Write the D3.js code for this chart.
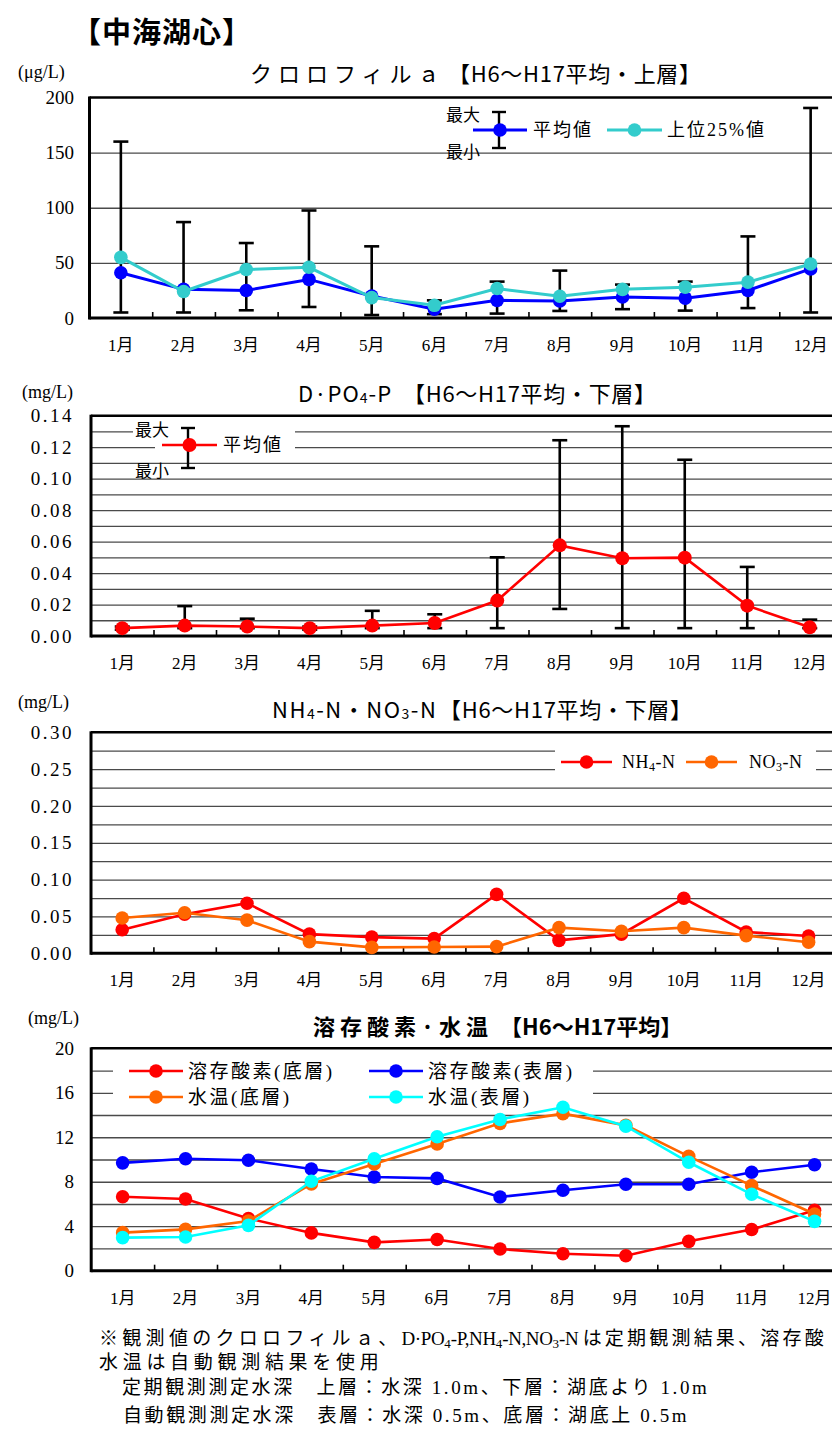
<!DOCTYPE html>
<html>
<head>
<meta charset="utf-8">
<script src="https://cdn.jsdelivr.net/npm/d3@7"></script>
<style>
  body { margin: 0; background: #fff; }
  svg { display: block; }
</style>
</head>
<body>
<div id="chart"></div>
<script>
// months on every x axis
const months = ["1月","2月","3月","4月","5月","6月","7月","8月","9月","10月","11月","12月"];

// クロロフィルａ (μg/L)
const chlMean  = [41, 26, 25, 35, 20, 8, 16, 15.5, 19, 18, 25, 44.5];
const chlTop25 = [55, 24, 44, 46, 18.5, 11.5, 26.7, 19.7, 26, 28, 32.5, 49];
const chlMax   = [160, 87, 68, 97.5, 65, 16, 33, 43, 30.3, 33, 74, 190.5];
const chlMin   = [5, 5, 7, 10, 2.7, 3.5, 4, 6.4, 8, 6.7, 9, 5];
const chlTicks = [0, 50, 100, 150, 200];
const chlGrid  = [50, 100, 150];

// D·PO4-P (mg/L)
const po4Mean  = [0.005, 0.0066, 0.006, 0.005, 0.0066, 0.0083, 0.0225, 0.0576, 0.0494, 0.0498, 0.0193, 0.0055];
const po4Max   = [0.006, 0.019, 0.011, 0.006, 0.016, 0.0138, 0.050, 0.1244, 0.1333, 0.112, 0.0439, 0.0104];
const po4Min   = [0.004, 0.005, 0.005, 0.004, 0.005, 0.005, 0.005, 0.0172, 0.005, 0.005, 0.005, 0.005];
const po4Ticks = [0, 0.02, 0.04, 0.06, 0.08, 0.10, 0.12, 0.14];
const po4Grid  = [0.01, 0.02, 0.03, 0.04, 0.05, 0.06, 0.07, 0.08, 0.09, 0.10, 0.11, 0.12, 0.13];

// NH4-N / NO3-N (mg/L)
const nh4 = [0.032, 0.053, 0.068, 0.026, 0.022, 0.020, 0.080, 0.0176, 0.026, 0.0747, 0.029, 0.0235];
const no3 = [0.048, 0.055, 0.045, 0.0158, 0.008, 0.0086, 0.009, 0.0348, 0.030, 0.0348, 0.024, 0.015];
const nTicks = [0, 0.05, 0.10, 0.15, 0.20, 0.25, 0.30];
const nGrid  = [0.025, 0.05, 0.075, 0.10, 0.125, 0.15, 0.175, 0.20, 0.225, 0.25, 0.275];

// 溶存酸素 (mg/L) / 水温
const doBottom  = [6.65, 6.45, 4.7, 3.4, 2.55, 2.8, 1.95, 1.53, 1.35, 2.64, 3.7, 5.43];
const doSurface = [9.7, 10.07, 9.93, 9.15, 8.43, 8.3, 6.63, 7.23, 7.77, 7.77, 8.85, 9.53];
const wtBottom  = [3.42, 3.72, 4.47, 7.8, 9.6, 11.4, 13.25, 14.12, 13.07, 10.28, 7.65, 5.1];
const wtSurface = [2.97, 3.03, 4.08, 8.04, 10.07, 12.05, 13.6, 14.7, 13.0, 9.75, 6.87, 4.44];
const oxTicks = [0, 4, 8, 12, 16, 20];
const oxGrid  = [2, 4, 6, 8, 10, 12, 14, 16, 18];

const W = 832, H = 1433;
const serif = "'Liberation Serif','Noto Sans CJK JP',serif";
const gothic = "'Noto Sans CJK JP',sans-serif";

const svg = d3.select("#chart").append("svg")
  .attr("width", W).attr("height", H);

// text with subscripts: parts = [[text, isSub, letterSpacing], ...]
function rich(sel, parts, subSize) {
  let shifted = false;
  parts.forEach(([t, sub, ls]) => {
    const ts = sel.append("tspan").text(t);
    if (ls !== undefined) ts.attr("letter-spacing", ls);
    if (sub) { ts.attr("font-size", subSize).attr("dy", 5); shifted = true; }
    else if (shifted) { ts.attr("dy", -5); shifted = false; }
  });
  return sel;
}

function label(x, y, txt, size, opts = {}) {
  return svg.append("text")
    .attr("x", x).attr("y", y)
    .attr("dominant-baseline", "central")
    .attr("font-family", opts.family || serif)
    .attr("font-size", size)
    .attr("font-weight", opts.weight || "normal")
    .attr("letter-spacing", opts.ls || 0)
    .attr("fill", "#000")
    .text(txt);
}

// axes, grid and frame for one panel
function panel(p) {
  const x = d3.scaleBand().domain(months).range([p.left, p.right]);
  const y = d3.scaleLinear().domain([0, p.max]).range([p.bottom, p.top]);
  const g = svg.append("g");

  g.append("g")
    .attr("transform", `translate(${p.left},0)`)
    .call(d3.axisLeft(y).tickValues(p.grid).tickSize(-(W - p.left)).tickFormat(""))
    .call(a => a.select(".domain").remove())
    .selectAll("line").attr("stroke", "#4a4a4a").attr("stroke-width", 1.3);

  g.append("g")
    .attr("transform", `translate(74,0)`)
    .call(d3.axisLeft(y).tickValues(p.ticks).tickSize(0).tickPadding(0).tickFormat(p.fmt))
    .call(a => a.select(".domain").remove())
    .selectAll("text")
      .attr("font-family", serif).attr("font-size", 19)
      .attr("letter-spacing", p.ls || 0).attr("fill", "#000");

  g.append("g")
    .attr("transform", `translate(0,${p.bottom})`)
    .call(d3.axisBottom(x).tickSize(0).tickPadding(21))
    .call(a => a.select(".domain").remove())
    .selectAll("text")
      .attr("font-family", serif).attr("font-size", 17).attr("fill", "#000");

  const xi = d3.scaleLinear().domain([0, 12]).range([p.left, p.right]);
  g.append("g")
    .attr("transform", `translate(0,${p.bottom})`)
    .call(d3.axisBottom(xi).tickValues(d3.range(1, 12)).tickSize(-6).tickFormat(""))
    .call(a => a.select(".domain").remove())
    .selectAll("line").attr("stroke", "#000").attr("stroke-width", 1.6);

  const fr = svg.append("g").attr("stroke", "#000");
  fr.append("line").attr("x1", p.left).attr("x2", W).attr("y1", p.top).attr("y2", p.top).attr("stroke-width", 2.5);
  fr.append("line").attr("x1", p.left).attr("x2", p.left).attr("y1", p.top - 1).attr("y2", p.bottom + 1.5).attr("stroke-width", 3);
  fr.append("line").attr("x1", p.left).attr("x2", W).attr("y1", p.bottom).attr("y2", p.bottom).attr("stroke-width", 3);

  return { x, y, cx: m => x(m) + x.bandwidth() / 2 };
}

function errorBars(pn, lo, hi, cap) {
  const g = svg.append("g").attr("stroke", "#000").attr("stroke-width", 2.6);
  const d = months.map((m, i) => ({ m, lo: lo[i], hi: hi[i] }));
  g.selectAll(".v").data(d).join("line")
    .attr("x1", e => pn.cx(e.m)).attr("x2", e => pn.cx(e.m))
    .attr("y1", e => pn.y(e.lo)).attr("y2", e => pn.y(e.hi));
  ["lo", "hi"].forEach(k => {
    g.selectAll(".c" + k).data(d).join("line")
      .attr("x1", e => pn.cx(e.m) - cap).attr("x2", e => pn.cx(e.m) + cap)
      .attr("y1", e => pn.y(e[k])).attr("y2", e => pn.y(e[k]));
  });
}

function series(pn, vals, color, r, w) {
  const d = months.map((m, i) => ({ m, v: vals[i] }));
  const g = svg.append("g");
  g.append("path").datum(d)
    .attr("fill", "none").attr("stroke", color).attr("stroke-width", w)
    .attr("d", d3.line().x(e => pn.cx(e.m)).y(e => pn.y(e.v)));
  g.selectAll("circle").data(d).join("circle")
    .attr("cx", e => pn.cx(e.m)).attr("cy", e => pn.y(e.v))
    .attr("r", r).attr("fill", color);
}

function legendLine(x1, x2, y, color, r, w) {
  svg.append("line").attr("x1", x1).attr("x2", x2).attr("y1", y).attr("y2", y)
    .attr("stroke", color).attr("stroke-width", w);
  svg.append("circle").attr("cx", (x1 + x2) / 2).attr("cy", y).attr("r", r).attr("fill", color);
}

function legendBar(x, y1, y2, cap) {
  const g = svg.append("g").attr("stroke", "#000").attr("stroke-width", 2.4);
  g.append("line").attr("x1", x).attr("x2", x).attr("y1", y1).attr("y2", y2);
  g.append("line").attr("x1", x - cap).attr("x2", x + cap).attr("y1", y1).attr("y2", y1);
  g.append("line").attr("x1", x - cap).attr("x2", x + cap).attr("y1", y2).attr("y2", y2);
}

// page heading
label(72, 30, "【中海湖心】", 29, { family: gothic, weight: "bold", ls: 1 });

// ---------- chart 1: クロロフィルａ ----------
label(18, 72, "(μg/L)", 18);
label(250, 72, "クロロフィルａ", 22, { family: gothic, ls: 6 });
label(448, 72, "【H6～H17平均・上層】", 22, { family: gothic, ls: 0.7 });

const p1 = panel({ left: 89.5, right: 842, top: 97.5, bottom: 318, max: 200,
  ticks: chlTicks, grid: chlGrid, fmt: d3.format("d") });
errorBars(p1, chlMin, chlMax, 7.5);
series(p1, chlMean, "#0000ff", 6.8, 3);
series(p1, chlTop25, "#33cccc", 6.8, 3);

label(446, 113, "最大", 17, { family: gothic });
label(446, 150, "最小", 17, { family: gothic });
legendBar(499, 112, 148, 7);
legendLine(473, 527, 130, "#0000ff", 6.8, 3);
label(533, 130, "平均値", 18, { ls: 2 });
legendLine(607, 662, 130, "#33cccc", 6.8, 3);
label(667, 130, "上位25%値", 18, { ls: 2 });

// ---------- chart 2: D·PO4-P ----------
label(22, 392, "(mg/L)", 18);
rich(label(298, 392, "", 22, { family: gothic, ls: 1 }), [["D·PO"], ["4", true], ["-P"]], 14);
label(403, 392, "【H6～H17平均・下層】", 22, { family: gothic, ls: 0.7 });

const p2 = panel({ left: 91, right: 841, top: 415.7, bottom: 636, max: 0.14,
  ticks: po4Ticks, grid: po4Grid, fmt: d3.format(".2f"), ls: 2.5 });
svg.append("rect").attr("x", 133).attr("y", 426).attr("width", 162).attr("height", 10).attr("fill", "#fff");
svg.append("rect").attr("x", 155).attr("y", 441).attr("width", 140).attr("height", 12).attr("fill", "#fff");
errorBars(p2, po4Min, po4Max, 7.5);
series(p2, po4Mean, "#ff0000", 7, 2.6);

label(135, 428, "最大", 17, { family: gothic });
label(135, 469, "最小", 17, { family: gothic });
legendBar(188, 428, 468, 7);
legendLine(162, 217, 445, "#ff0000", 7, 2.6);
label(223, 445, "平均値", 18, { ls: 2 });

// ---------- chart 3: NH4-N・NO3-N ----------
label(18, 702, "(mg/L)", 18);
rich(label(272, 708, "", 22, { family: gothic, ls: 1.5 }), [["NH"], ["4", true], ["-N・NO"], ["3", true], ["-N"]], 14);
label(439, 708, "【H6～H17平均・下層】", 22, { family: gothic, ls: 0.7 });

const p3 = panel({ left: 91, right: 839.8, top: 732.3, bottom: 953.3, max: 0.30,
  ticks: nTicks, grid: nGrid, fmt: d3.format(".2f"), ls: 2.5 });
svg.append("rect").attr("x", 555).attr("y", 744).attr("width", 261).attr("height", 32).attr("fill", "#fff");
series(p3, nh4, "#ff0000", 6.8, 2.6);
series(p3, no3, "#ff6600", 6.8, 2.6);

legendLine(561, 612, 762, "#ff0000", 6.8, 2.6);
rich(label(622, 762, "", 18, { ls: 0.5 }), [["NH"], ["4", true], ["-N"]], 12);
legendLine(686, 737, 762, "#ff6600", 6.8, 2.6);
rich(label(749, 762, "", 18, { ls: 0.5 }), [["NO"], ["3", true], ["-N"]], 12);

// ---------- chart 4: 溶存酸素·水温 ----------
label(28, 1018, "(mg/L)", 18);
label(313, 1025, "溶存酸素·水温", 22, { family: gothic, weight: "bold", ls: 5 });
label(500, 1025, "【H6～H17平均】", 22, { family: gothic, weight: "bold" });

const p4 = panel({ left: 91.2, right: 846, top: 1048.3, bottom: 1270.7, max: 20,
  ticks: oxTicks, grid: oxGrid, fmt: d3.format("d") });
svg.append("rect").attr("x", 113).attr("y", 1062).attr("width", 480).attr("height", 44).attr("fill", "#fff");
series(p4, doBottom, "#ff0000", 6.8, 2.6);
series(p4, doSurface, "#0000ff", 6.8, 2.6);
series(p4, wtBottom, "#ff6600", 6.8, 2.6);
series(p4, wtSurface, "#00ffff", 6.8, 2.6);

legendLine(129, 183, 1071, "#ff0000", 6.8, 2.6);
label(188, 1071, "溶存酸素(底層)", 19, { ls: 2.5 });
legendLine(369, 423, 1071, "#0000ff", 6.8, 2.6);
label(428, 1071, "溶存酸素(表層)", 19, { ls: 2.5 });
legendLine(129, 183, 1097, "#ff6600", 6.8, 2.6);
label(188, 1097, "水温(底層)", 19, { ls: 2.5 });
legendLine(369, 423, 1097, "#00ffff", 6.8, 2.6);
label(428, 1097, "水温(表層)", 19, { ls: 2.5 });

// ---------- footnote ----------
rich(label(99, 1338, "", 19, { ls: 4.3 }),
  [["※観測値のクロロフィルａ、"], ["D·PO", false, -0.4], ["4", true, 0], ["-P,NH", false, -0.4], ["4", true, 0],
   ["-N,NO", false, -0.4], ["3", true, 0], ["-N ", false, -0.4], ["は定期観測結果、溶存酸", false, 3.2]], 13);
label(99, 1362, "水温は自動観測結果を使用", 19, { ls: 4.7 });
label(122, 1387, "定期観測測定水深　上層：水深 1.0m、下層：湖底より 1.0m", 19, { ls: 2.6 });
label(123, 1415, "自動観測測定水深　表層：水深 0.5m、底層：湖底上 0.5m", 19, { ls: 2.6 });
</script>
</body>
</html>
